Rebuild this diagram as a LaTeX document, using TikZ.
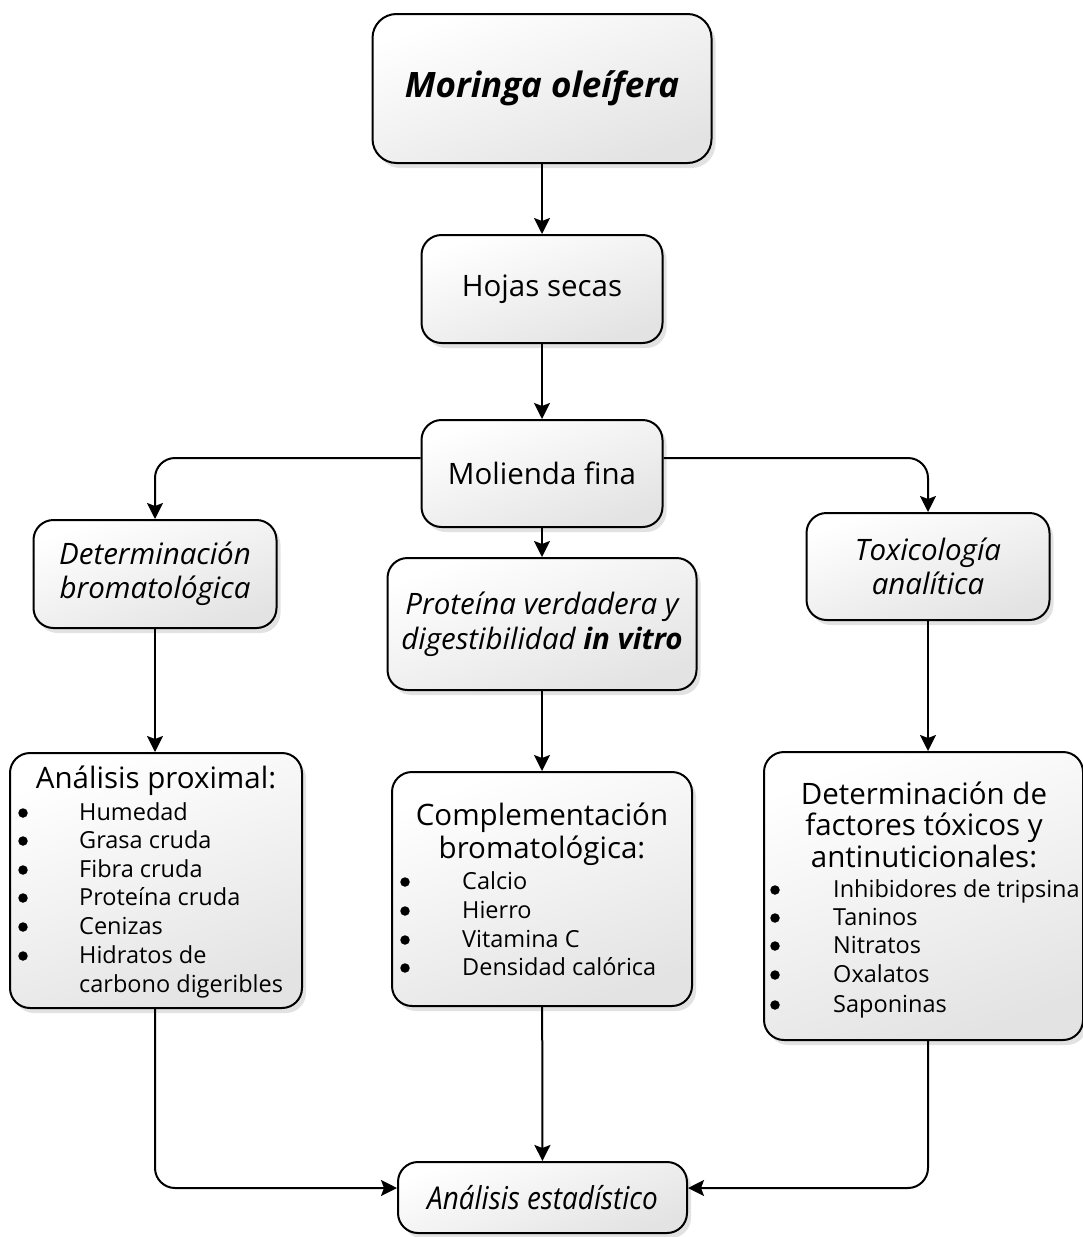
\documentclass[tikz,border=0pt]{standalone}
\usepackage{fontspec}
\setmainfont{Open Sans}
\usetikzlibrary{arrows.meta,shadows}
\newcommand{\fsT}{\fontsize{29.5}{34}\selectfont}
\newcommand{\fsI}{\fontsize{23.5}{28}\selectfont}
\begin{document}
\begin{tikzpicture}[x=1pt,y=-1pt,
  box/.style={draw=black, line width=2pt, rounded corners=20pt,
    top color=white, bottom color=black!11, shading angle=20,
    drop shadow={shadow xshift=4pt, shadow yshift=-5pt, fill=black!14, opacity=0.8},
    align=center, inner sep=0pt},
  conn/.style={line width=2pt, -{Stealth[length=16pt,width=16pt,inset=3pt]}},
  ttl/.style={font=\fsT, align=center, inner sep=0pt},
  dot/.style={circle, fill=black, inner sep=0pt, minimum size=9.5pt},
  itm/.style={font=\fsI, anchor=base west, inner sep=0pt}]
\useasboundingbox (0,0) rectangle (1083,1237);

% boxes
\node[box, minimum width=339pt, minimum height=149pt, rounded corners=24pt,
  font=\fontsize{35}{40}\selectfont\bfseries\itshape] (moringa) at (542,88.5) {Moringa oleífera};
\node[box, minimum width=241pt, minimum height=108pt, font=\fsT] (hojas) at (542,289) {Hojas secas};
\node[box, minimum width=241pt, minimum height=107pt, font=\fsT] (molienda) at (542,473.5) {Molienda fina};
\node[box, minimum width=243pt, minimum height=108pt, font=\fsT\itshape] (detbrom) at (155,574)
  {Determinación\\[0pt] bromatológica};
\node[box, minimum width=309pt, minimum height=132pt, font=\fsT\itshape] (proteina) at (542,624)
  {Proteína verdadera y\\[1pt] digestibilidad \textbf{in vitro}};
\node[box, minimum width=243pt, minimum height=107pt, font=\fsT\itshape] (toxico) at (928,566.5)
  {Toxicología\\[0pt] analítica};
\node[box, minimum width=292pt, minimum height=255pt] (proximal) at (156,880.5) {};
\node[box, minimum width=300pt, minimum height=234pt] (complem) at (542,889) {};
\node[box, minimum width=319pt, minimum height=288pt] (factores) at (923.5,896) {};
\node[box, minimum width=289pt, minimum height=71pt, font=\fontsize{30}{34}\selectfont\itshape] (estad) at (542.5,1197.5)
  {\scalebox{0.93}[1.05]{Análisis estadístico}};

% Análisis proximal contents
\node[ttl, anchor=base] (pxt) at (156,788) {Análisis proximal:};
\foreach \i/\t/\y in {1/Humedad/820, 2/Grasa cruda/848, 3/Fibra cruda/877, 4/Proteína cruda/905, 5/Cenizas/934, 6/Hidratos de/963} {
  \node[dot] (pxb\i) at (23,\y-7) {};
  \node[itm] (pxi\i) at (79,\y) {\t};
}
\node[itm] (pxi7) at (79,992) {carbono digeribles};

% Complementación contents
\node[ttl, anchor=base] (cpt1) at (542,825) {Complementación};
\node[ttl, anchor=base] (cpt2) at (542,858) {bromatológica:};
\foreach \i/\t/\y in {1/Calcio/889, 2/Hierro/918, 3/Vitamina C/947, 4/Densidad calórica/975} {
  \node[dot] (cpb\i) at (405,\y-7) {};
  \node[itm] (cpi\i) at (462,\y) {\t};
}

% Factores contents
\node[ttl, anchor=base] (ftt1) at (924,804) {Determinación de};
\node[ttl, anchor=base] (ftt2) at (924,835) {factores tóxicos y};
\node[ttl, anchor=base] (ftt3) at (924,867) {antinuticionales:};
\foreach \i/\t/\y in {1/Inhibidores de tripsina/897, 2/Taninos/925, 3/Nitratos/953, 4/Oxalatos/982, 5/Saponinas/1012} {
  \node[dot] (ftb\i) at (775,\y-7) {};
  \node[itm] (fti\i) at (833,\y) {\t};
}

% connectors
\draw[conn] (moringa) -- (hojas);
\draw[conn] (hojas) -- (molienda);
\draw[conn] (molienda) -- (proteina);
\draw[conn, rounded corners=20pt] ([yshift=15.5pt]molienda.west) -| (detbrom.north);
\draw[conn, rounded corners=20pt] ([yshift=15.5pt]molienda.east) -| (toxico.north);
\draw[conn] (detbrom.south) -- (detbrom.south |- proximal.north);
\draw[conn] (proteina) -- (complem);
\draw[conn] (toxico.south) -- (toxico.south |- factores.north);
\draw[conn] (complem) -- (estad);
\draw[conn, rounded corners=20pt] (detbrom.south |- proximal.south) |- ([yshift=9.5pt]estad.west);
\draw[conn, rounded corners=20pt] (toxico.south |- factores.south) |- ([yshift=9.5pt]estad.east);
\end{tikzpicture}
\end{document}
